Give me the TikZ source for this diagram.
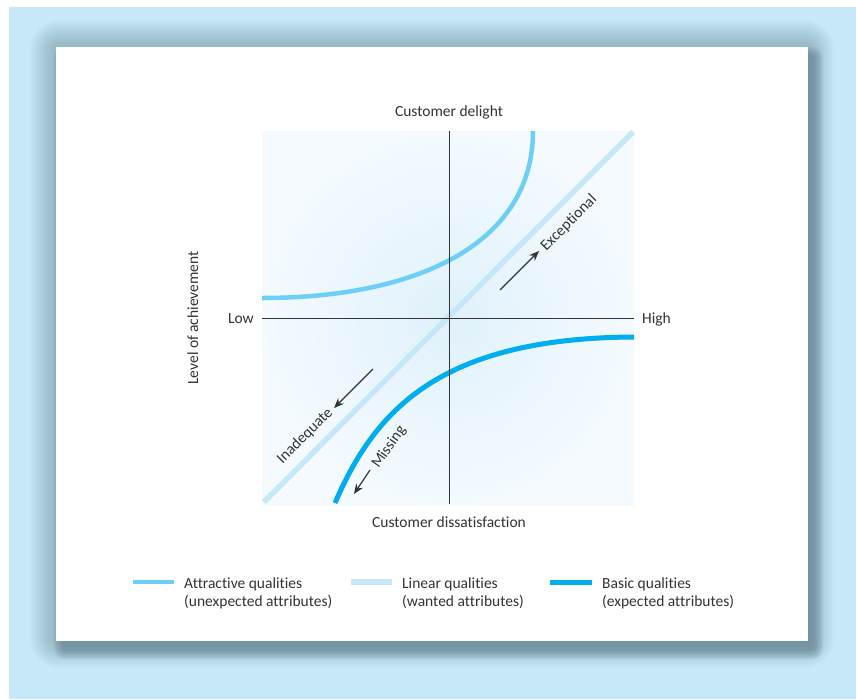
\documentclass[tikz,border=0pt]{standalone}
\usepackage{fontspec}
\setmainfont{Carlito}[Ligatures=NoCommon]
\usetikzlibrary{arrows.meta}
\definecolor{bgblue}{HTML}{C6E8F8}
\definecolor{shadowc}{HTML}{4A6876}
\definecolor{attrc}{HTML}{6DCFF6}
\definecolor{linc}{HTML}{C6E7F8}
\definecolor{basc}{HTML}{00AEEF}
\definecolor{txt}{HTML}{333333}
\definecolor{shin}{HTML}{DFF1FB}
\definecolor{shout}{HTML}{F4FAFE}
\begin{document}
\begin{tikzpicture}[x=1pt,y=-1pt,
  every node/.style={text=txt, inner sep=0pt, font=\fontsize{15.5}{18}\selectfont},
  axis/.style={draw=txt, line width=1pt},
  attr/.style={draw=attrc, line width=4.5pt},
  lin/.style={draw=linc, line width=5.5pt},
  bas/.style={draw=basc, line width=5pt},
  arr/.style={draw=txt, line width=1.2pt, -{Stealth[length=10pt,width=8pt]}}
]
\useasboundingbox (0,0) rectangle (856,699);
% background and panel with soft shadow
\fill[bgblue] (9,7) rectangle (856,699);
\foreach \r in {2,4,...,26} {
  \fill[shadowc, opacity=0.03, rounded corners={\r pt+3pt}] ({56-\r},{47-\r}) rectangle ({808+\r},{641+\r});
}
\foreach \r in {0,2,...,8} {
  \fill[shadowc, opacity=0.11, rounded corners={\r pt+3pt}] ({62-\r},{55-\r}) rectangle ({815+\r},{651+\r});
}
\fill[white] (56,47) rectangle (808,641);
% plot area
\shade[inner color=shin, outer color=shout] (262,131) rectangle (634,505);
% coordinates
\coordinate (vt) at (449,131);
\coordinate (vb) at (449,504);
\coordinate (hl) at (262,318);
\coordinate (hr) at (634,318);
\coordinate (l1) at (264,502);
\coordinate (l2) at (633,132);
\coordinate (a0) at (262,298);
\coordinate (a3) at (533,131);
\coordinate (b0) at (335,503);
\coordinate (b3) at (634,337);
% linear line
\draw[lin] (l1) -- (l2);
% curves
\draw[attr] (a0) .. controls (415,298) and (533,245) .. (a3);
\draw[bas] (b0) .. controls (375,410) and (440,338) .. (b3);
% axes
\draw[axis] (vt) -- (vb);
\draw[axis] (hl) -- (hr);
% axis labels
\node (delight) [anchor=base] at (449,116) {Customer delight};
\node (dissat) [anchor=base] at (449,527) {Customer dissatisfaction};
\node (low) [anchor=base east] at (254,323) {Low};
\node (high) [anchor=base west] at (642,323) {High};
\node (level) [anchor=base, rotate=90] at (198,318) {Level of achievement};
% arrows and labels
\coordinate (e1) at (500,290);
\coordinate (e2) at (539,251);
\draw[arr] (e1) -- (e2);
\node (exc) [rotate=45] at (569,223) {Exceptional};
\coordinate (i1) at (373,369);
\coordinate (i2) at (334,408);
\draw[arr] (i1) -- (i2);
\node (inad) [rotate=45] at (305,436) {Inadequate};
\coordinate (m1) at (370,470);
\coordinate (m2) at (354,494);
\draw[arr] (m1) -- (m2);
\node (miss) [rotate=55] at (389,447) {Missing};
% legend
\coordinate (la0) at (133,582); \coordinate (la1) at (174,582);
\coordinate (ll0) at (351,582); \coordinate (ll1) at (392,582);
\coordinate (lb0) at (550,582); \coordinate (lb1) at (592,582);
\draw[attr] (la0) -- (la1);
\draw[lin] (ll0) -- (ll1);
\draw[bas] (lb0) -- (lb1);
\node (ta1) [anchor=base west] at (184,588) {Attractive qualities};
\node (ta2) [anchor=base west] at (184,606) {(unexpected attributes)};
\node (tl1) [anchor=base west] at (402,588) {Linear qualities};
\node (tl2) [anchor=base west] at (402,606) {(wanted attributes)};
\node (tb1) [anchor=base west] at (602,588) {Basic qualities};
\node (tb2) [anchor=base west] at (602,606) {(expected attributes)};
\end{tikzpicture}
\end{document}
